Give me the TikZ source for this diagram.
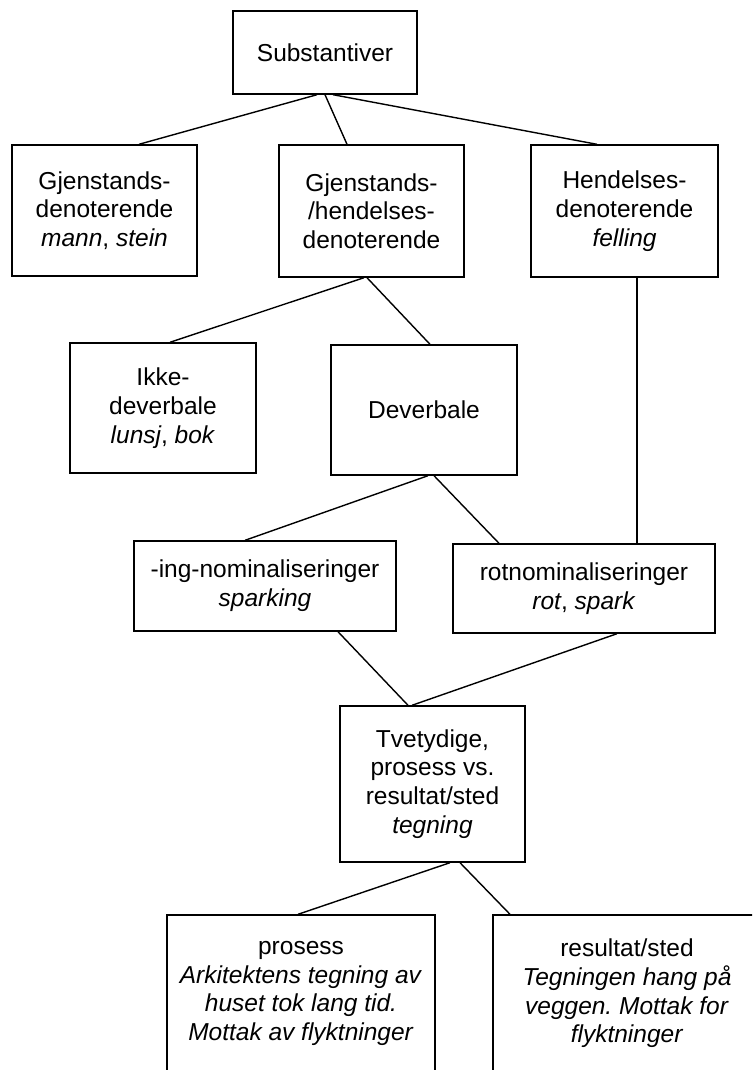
\documentclass[tikz,border=0pt]{standalone}
\usepackage{fontspec}
\setmainfont{Liberation Sans}
\frenchspacing
\begin{document}
\begin{tikzpicture}[x=1pt,y=-1pt,
  box/.style={draw, line width=1.4pt, inner sep=0pt, align=center,
    font=\fontsize{24.5}{28.7}\selectfont\frenchspacing},
  conn/.style={line width=1.4pt}]
\clip (0,0) rectangle (752,1070);
\node[box, minimum width=184, minimum height=83] (sub) at (325,52.5) {Substantiver};
\node[box, minimum width=185, minimum height=131] (gj) at (104.5,210.5) {Gjenstands-\\denoterende\\\textit{mann}, \textit{stein}};
\node[box, minimum width=185, minimum height=132] (gjh) at (371.5,211) {Gjenstands-\\/hendelses-\\denoterende};
\node[box, minimum width=187, minimum height=132] (hend) at (624.5,211) {Hendelses-\\denoterende\\\textit{felling}};
\node[box, minimum width=186, minimum height=130] (ikke) at (163,408) {Ikke-\\deverbale\\\textit{lunsj}, \textit{bok}};
\node[box, minimum width=186, minimum height=130] (dev) at (424,410) {Deverbale};
\node[box, minimum width=262, minimum height=90] (ing) at (265,586) {-ing-nominaliseringer\\\textit{sparking}};
\node[box, minimum width=262, minimum height=89] (rot) at (584,588.5) {rotnominaliseringer\\\textit{rot}, \textit{spark}};
\node[box, minimum width=185, minimum height=156] (tve) at (432.5,784) {Tvetydige,\\prosess vs.\\resultat/sted\\\textit{tegning}};
\node[box, minimum width=268, minimum height=157] (pro) at (301,993.5) {prosess\\\textit{Arkitektens tegning av}\\\textit{huset tok lang tid.}\\\textit{Mottak av flyktninger}};
\node[box, minimum width=268, minimum height=157] (res) at (627,993.5) {resultat/sted\\\textit{Tegningen hang på}\\\textit{veggen. Mottak for}\\\textit{flyktninger}};
\draw[conn] ([xshift=-8]sub.south) -- ([xshift=34.5]gj.north);
\draw[conn] (sub.south) -- ([xshift=-24.5]gjh.north);
\draw[conn] ([xshift=8]sub.south) -- ([xshift=-27.5]hend.north);
\draw[conn] ([xshift=-7.5]gjh.south) -- ([xshift=7]ikke.north);
\draw[conn] ([xshift=-4.5]gjh.south) -- ([xshift=6]dev.north);
\draw[conn] ([xshift=12.5]hend.south) -- ([xshift=12.5]hend.south |- rot.north);
\draw[conn] ([xshift=4]dev.south) -- ([xshift=-20]ing.north);
\draw[conn] ([xshift=10]dev.south) -- ([xshift=-85]rot.north);
\draw[conn] ([xshift=73]ing.south) -- ([xshift=-24.5]tve.north);
\draw[conn] ([xshift=33]rot.south) -- ([xshift=-20.5]tve.north);
\draw[conn] ([xshift=17.5]tve.south) -- ([xshift=-3]pro.north);
\draw[conn] ([xshift=27.5]tve.south) -- ([xshift=-117]res.north);
\end{tikzpicture}
\end{document}
